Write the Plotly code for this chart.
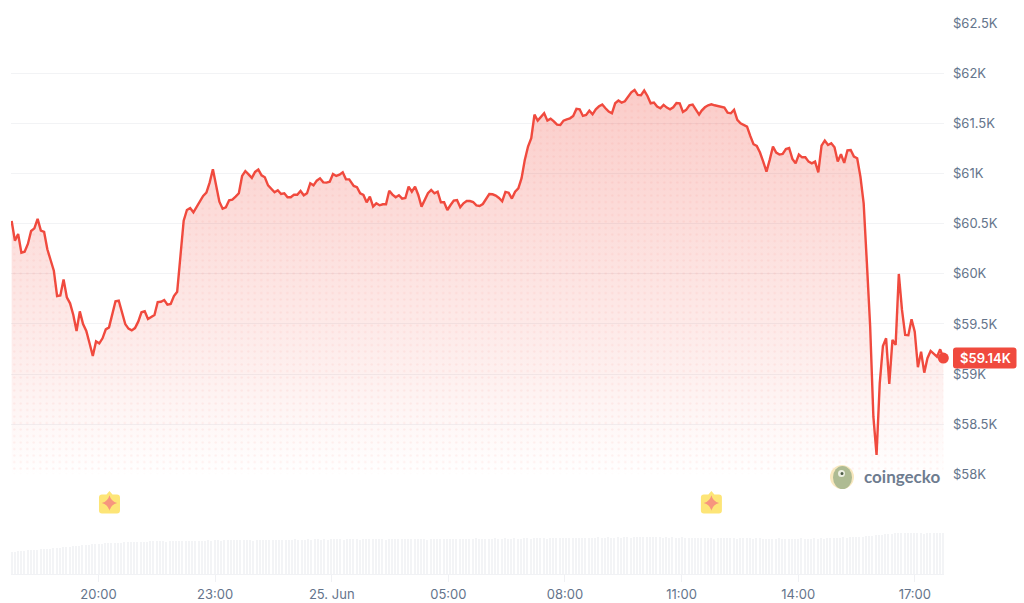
import pandas as pd
import plotly.graph_objects as go

# Prices, one list per stretch of the day
prices_evening = [60528,60331,60398,60211,60221,60298,60428,60454,60548,60431,60418,60245,60138,60032,59779,59785,
59945,59766,59706,59589,59430,59626,59499,59430,59307,59180,59326,59307,59357,59446,59466,59606,59726,59732,59606,
59499,59453,59436,59459,59523,59616,59626,59549,59573,59589,59719,59722,59739,59692,59699,59779,59822,60171,60531,
60637,60657,60614,60670,60720,60777,60810,60910,61043,60870,60720,60650,60664,60734,60740,60770,60804,60977,61026,
60993,60957,61017,61040,60983,60963,60883,60843,60814,60834,60797,60804,60764,60764,60790,60790,60827,60784,60804,
60904,60883,60930,60953,60913,60910,60920,60996,60977,60990,61013,60943,60943]
prices_morning = [60920,60877,60864,60804,60787,60714,60771,60671,60704,60684,60694,60694,60830,60791,60764,60784,
60751,60757,60870,60820,60870,60787,60671,60744,60804,60837,60804,60820,60714,60714,60637,60687,60731,60737,60664,
60704,60727,60727,60717,60684,60677,60697,60744,60797,60794,60781,60757,60724,60817,60810,60751,60820,60854,60954,
61137,61270,61353,61589,61529,61569,61602,61529,61549,61522,61489,61486,61529,61542,61552,61576,61646,61642,61576,
61586,61629,61592,61642,61672,61689,61652,61619,61602,61702,61729,61709,61722,61769,61812,61835,61785,61782,61829,
61775,61702,61709,61669,61652,61686,61659,61642,61662,61705,61702,61616,61636,61682,61689,61642,61589]
prices_midday = [61629,61662,61682,61692,61682,61672,61665,61659,61609,61602,61636,61536,61502,61486,61469,61376,
61293,61276,61210,61120,61020,61137,61270,61210,61190,61196,61246,61256,61147,61103,61190,61163,61163,61120,61103,
61120,61013,61280,61330,61286,61303,61263,61120,61193,61107,61233,61236,61170,61153,60970,60704,60105,59480]
prices_drop = [58575,58193,58908,59281,59357,58901,59341,59291,59999,59640,59390,59387,59547,59424,59068,59224,
59014,59158,59231,59207,59174,59247,59160]

# First and last time of each stretch
spans = [("2024-06-24 17:46", "2024-06-25 02:27"), ("2024-06-25 02:29", "2024-06-25 11:27"),
         ("2024-06-25 11:31", "2024-06-25 15:51"), ("2024-06-25 15:56", "2024-06-25 17:44")]
stretches = [prices_evening, prices_morning, prices_midday, prices_drop]

times, prices = [], []
for (a, b), vals in zip(spans, stretches):
    times += list(pd.date_range(a, b, periods=len(vals)))
    prices += vals

volume = [22,22,23,23,23,24,24,24,24,25,25,25,25,26,26,26,27,27,27,28,28,28,29,29,29,30,30,30,30,31,31,31,31,31,31,32,
32,32,32,32,32,32,32,33,33,33,33,33,32,33,33,33,33,33,33,33,33,33,33,33,33,34,33,34,34,33,34,34,34,34,34,34,34,34,34,
33,34,34,34,34,34,34,34,34,34,34,34,34,35,34,34,34,35,34,35,35,34,35,34,35,35,35,35,34,35,35,35,35,34,35,35,35,35,35,
35,35,34,35,35,35,35,35,35,35,35,35,35,35,35,34,35,35,35,35,35,35,35,35,35,35,35,35,35,35,36,35,35,35,35,35,36,35,35,
36,35,35,36,35,35,36,36,35,36,36,36,36,35,36,36,36,36,36,36,36,36,36,36,36,36,36,36,36,37,36,36,37,36,36,37,36,37,37,
36,37,37,37,37,37,37,37,37,37,36,37,36,37,36,36,37,36,36,36,36,36,36,36,36,36,35,36,36,36,36,36,36,35,36,36,36,36,35,
36,36,35,35,35,35,35,36,35,35,35,35,35,35,36,35,35,35,36,35,36,35,36,36,36,36,36,37,36,37,37,37,37,37,38,38,38,39,39,
39,40,40,40,41,41,41,41,41,41,41,41,41,40,41,41,41,41,41,41]
volume_times = pd.date_range("2024-06-24 17:46", "2024-06-25 17:44", periods=len(volume))

event_times = ["2024-06-24 20:17", "2024-06-25 11:46"]
event_level = [0.5, 0.5]

y_ticks = [58000, 58500, 59000, 59500, 60000, 60500, 61000, 61500, 62000, 62500]
y_labels = ["$58K", "$58.5K", "$59K", "$59.5K", "$60K", "$60.5K", "$61K", "$61.5K", "$62K", "$62.5K"]
x_ticks = ["2024-06-24 20:00", "2024-06-24 23:00", "2024-06-25 02:00", "2024-06-25 05:00", "2024-06-25 08:00",
           "2024-06-25 11:00", "2024-06-25 14:00", "2024-06-25 17:00"]
x_labels = ["20:00", "23:00", "25. Jun", "05:00", "08:00", "11:00", "14:00", "17:00"]
last_label = "$59.14K"

RED = "#f04a3e"
SLATE = "#64748b"
FONT = "Inter"
W, H = 1024, 603
baseline = [58000] * len(times)

fig = go.Figure()
# Gradient area
fig.add_trace(go.Scatter(x=times, y=baseline, mode="lines", line=dict(width=0), hoverinfo="skip", showlegend=False))
fig.add_trace(go.Scatter(x=times, y=prices, mode="lines", line=dict(width=0), fill="tonexty",
                         fillgradient=dict(type="vertical", start=58000, stop=61835,
                                           colorscale=[[0, "rgba(240,74,62,0)"], [0.25, "rgba(240,74,62,0.08)"],
                                                       [1, "rgba(240,74,62,0.28)"]]),
                         hoverinfo="skip", showlegend=False))
# Dot texture
fig.add_trace(go.Scatter(x=times, y=baseline, mode="lines", line=dict(width=0), hoverinfo="skip", showlegend=False))
fig.add_trace(go.Scatter(x=times, y=prices, mode="lines", line=dict(width=0), fill="tonexty",
                         fillcolor="rgba(0,0,0,0)",
                         fillpattern=dict(shape=".", size=6.5, solidity=0.1, fgcolor="#f04a3e", fgopacity=0.08,
                                          bgcolor="rgba(0,0,0,0)"),
                         hoverinfo="skip", showlegend=False))
# Price line
fig.add_trace(go.Scatter(x=times, y=prices, mode="lines", line=dict(color=RED, width=2.4), showlegend=False,
                         name="Price"))
fig.add_trace(go.Scatter(x=[times[-1]], y=[prices[-1]], mode="markers", cliponaxis=False,
                         marker=dict(color=RED, size=11), showlegend=False, hoverinfo="skip"))
# Volume
fig.add_trace(go.Bar(x=volume_times, y=volume, yaxis="y2", width=110000, marker=dict(color="#f3f4f6", line=dict(width=0)),
                     showlegend=False, name="Volume"))
# Event stars
fig.add_trace(go.Scatter(x=event_times, y=event_level, yaxis="y3", mode="markers", cliponaxis=False,
                         marker=dict(symbol="star-diamond", size=11, color="#f7957e", line=dict(width=0)),
                         showlegend=False, hoverinfo="skip"))

# In pixel-sized shapes a positive y goes upward
badge = "M -7.5 8.5 L -3 8.5 L 0 12 L 3 8.5 L 7.5 8.5 Q 10.5 8.5 10.5 5.5 L 10.5 -7.5 Q 10.5 -10.5 7.5 -10.5 " \
        "L -7.5 -10.5 Q -10.5 -10.5 -10.5 -7.5 L -10.5 5.5 Q -10.5 8.5 -7.5 8.5 Z"
shapes = [dict(type="path", layer="below", xref="x", yref="y3", xsizemode="pixel", ysizemode="pixel", xanchor=t, yanchor=v,
               path=badge, fillcolor="#fde577", line=dict(width=0))
          for t, v in zip(event_times, event_level)]

# Rounded price tag beside the last point
tag = "M 3 -10.5 L 60.5 -10.5 Q 63.5 -10.5 63.5 -7.5 L 63.5 7.5 Q 63.5 10.5 60.5 10.5 L 3 10.5 Q 0 10.5 0 7.5 " \
      "L 0 -7.5 Q 0 -10.5 3 -10.5 Z"
shapes.append(dict(type="path", layer="above", xref="paper", yref="y", xsizemode="pixel", ysizemode="pixel",
                   xanchor=953 / W, yanchor=prices[-1], path=tag, fillcolor=RED, line=dict(width=0)))
# CoinGecko logo
def px(x0, y0, x1, y1, **kw):
    return dict(type="circle", xref="paper", yref="paper", x0=x0 / W, x1=x1 / W, y0=1 - y0 / H, y1=1 - y1 / H,
                line=dict(width=0), layer="above", **kw)
shapes += [px(830, 465, 854, 489, fillcolor="#f8e8bf"),
           px(833, 466, 852, 489, fillcolor="#aebb93"),
           px(838, 470, 845, 477, fillcolor="#eef0e4"),
           px(840.5, 472, 843.5, 475, fillcolor="#4a5a45")]

annotations = [
    dict(x=(953 + 32) / W, y=prices[-1], xref="paper", yref="y", xanchor="center", yanchor="middle", text=last_label,
         showarrow=False, font=dict(family=FONT, size=13, color="white", weight=600)),
    dict(x=862 / W, y=1 - 477 / H, xref="paper", yref="paper", xanchor="left", yanchor="middle", text="coingecko",
         showarrow=False, font=dict(family="Lato", size=17, color="#6e7c8f", weight=700)),
]

fig.update_layout(
    width=W, height=H, margin=dict(l=0, r=0, t=0, b=0), paper_bgcolor="white", plot_bgcolor="rgba(0,0,0,0)",
    showlegend=False, bargap=0, shapes=shapes, annotations=annotations, font=dict(family=FONT, color=SLATE, size=13),
    xaxis=dict(domain=[11 / W, 944 / W], type="date", range=["2024-06-24 17:45", "2024-06-25 17:45"], anchor="y2",
               tickvals=x_ticks, ticktext=x_labels, ticks="outside", ticklen=7, tickcolor="#f0f1f4", tickwidth=1,
               showgrid=False, showline=True, linecolor="#f1f2f5", linewidth=1, zeroline=False, automargin=False,
               tickfont=dict(family=FONT, size=13, color=SLATE), ticklabelstandoff=1),
    yaxis=dict(domain=[1 - 474.3 / H, 1 - 23.3 / H], range=[58000, 62500], side="right", anchor="x", automargin=False,
               tickvals=y_ticks, ticktext=y_labels, ticks="", showgrid=True, gridcolor="#f2f3f5", gridwidth=1,
               zeroline=False, showline=False, ticklabelstandoff=8, tickfont=dict(family=FONT, size=13, color=SLATE)),
    yaxis2=dict(domain=[1 - 574 / H, 1 - 530 / H], range=[0, 44], anchor="x", visible=False, automargin=False),
    yaxis3=dict(domain=[1 - 520 / H, 1 - 486 / H], range=[0, 1], anchor="x", visible=False, automargin=False),
)
fig.write_html("out.html", config=dict(displayModeBar=False),
               post_script="document.body.style.margin='0';document.body.style.overflow='hidden';")
